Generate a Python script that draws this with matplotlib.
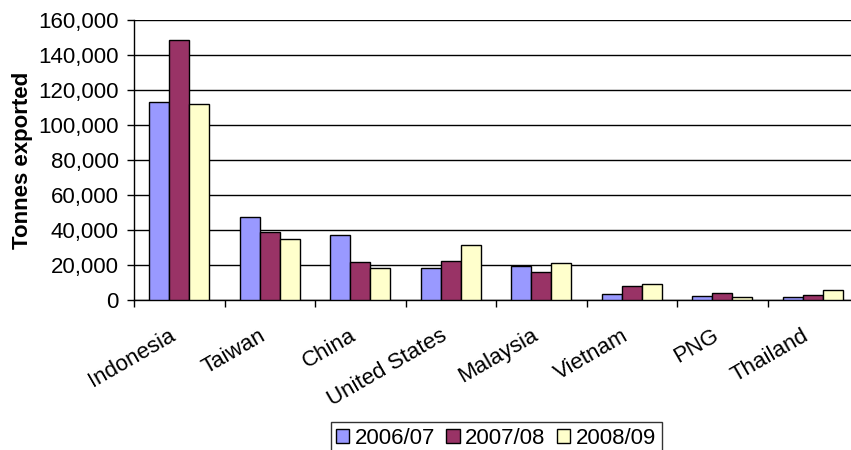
import numpy as np
import matplotlib.pyplot as plt
from matplotlib.ticker import FuncFormatter

countries = ["Indonesia", "Taiwan", "China", "United States", "Malaysia",
             "Vietnam", "PNG", "Thailand"]
seasons = ["2006/07", "2007/08", "2008/09"]
v0607 = [113100, 47400, 37100, 18300, 19200, 3200, 2100, 1700]
v0708 = [148700, 38700, 21500, 22300, 16000, 7800, 3800, 2700]
v0809 = [112000, 35000, 18500, 31600, 21000, 9000, 1900, 5500]
colors = ["#9999FF", "#993366", "#FFFFCC"]

plt.rcParams['font.family'] = ['Liberation Sans', 'DejaVu Sans']

fig = plt.figure(figsize=(8.51, 4.5), dpi=100)
ax = fig.add_axes([134 / 851, 150 / 450, 724 / 851, 280 / 450])

x = np.arange(len(countries))
width = 0.222
for i, vals in enumerate([v0607, v0708, v0809]):
    ax.bar(x + (i - 1) * width, vals, width=width, color=colors[i],
           edgecolor="black", linewidth=1, label=seasons[i], zorder=3)

ax.set_xlim(-0.5, len(countries) - 0.5)
ax.set_ylim(0, 160000)
ax.set_yticks(np.arange(0, 160001, 20000))
ax.yaxis.set_major_formatter(FuncFormatter(lambda v, p: f"{int(v):,}"))
ax.yaxis.grid(True, color="black", linewidth=1, zorder=0)
ax.set_xticks(np.arange(len(countries) + 1) - 0.5)
ax.set_xticklabels([])
ax.set_xticks(x, minor=True)
ax.set_xticklabels(countries, minor=True, rotation=30, ha="right", va="top",
                   fontsize=16)
ax.tick_params(axis="x", which="minor", length=0, pad=18)
ax.tick_params(axis="x", which="major", length=5, width=1)
ax.tick_params(axis="y", labelsize=16, length=5, width=1, pad=6)
for s in ["top", "right"]:
    ax.spines[s].set_visible(False)
for s in ["left", "bottom"]:
    ax.spines[s].set_linewidth(1)
ax.set_ylabel("Tonnes exported", fontsize=16, fontweight="bold", labelpad=4)

leg = fig.legend(loc="upper center", bbox_to_anchor=(496 / 851, 28 / 450), ncol=3,
                 fontsize=16, frameon=True, fancybox=False, edgecolor="black",
                 handlelength=0.6, handleheight=0.6, handletextpad=0.25,
                 columnspacing=0.5, borderpad=0.25, borderaxespad=0)
leg.get_frame().set_linewidth(1)

fig.savefig("out.png", dpi=100)
